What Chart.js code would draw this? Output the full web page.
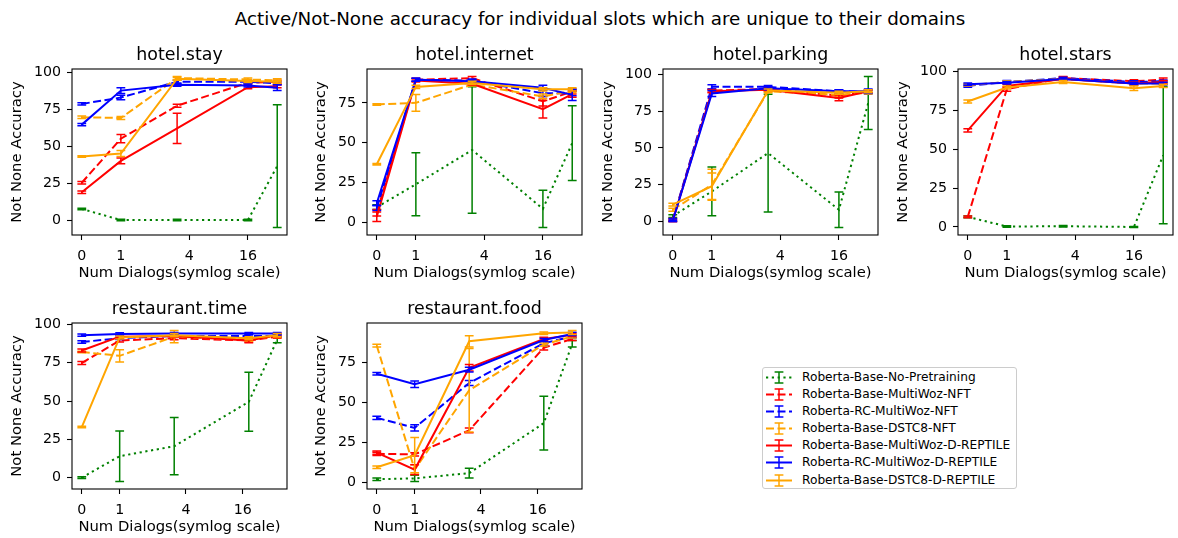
<!DOCTYPE html>
<html>
<head>
<meta charset="utf-8">
<title>Active/Not-None accuracy</title>
<script src="https://cdn.jsdelivr.net/npm/chart.js@4.4.1/dist/chart.umd.min.js"></script>
<style>
  body { margin: 0; background: #fff; }
  #fig { position: relative; width: 1178px; height: 538px; overflow: hidden; background: #fff; font-family: "DejaVu Sans", sans-serif; color: #000; }
  #fig canvas { position: absolute; }
  .suptitle { position: absolute; top: 8px; left: 0; width: 1200px; text-align: center; font-size: 18.3px; }
  .legend { position: absolute; left: 762px; top: 367px; width: 255px; height: 122px; box-sizing: border-box;
            border: 1px solid #cccccc; border-radius: 3px; padding-top: 1px; font-size: 12.2px; }
  .legend .row { position: relative; height: 17.1px; line-height: 17.1px; white-space: nowrap; }
  .legend svg { position: absolute; left: 3px; top: 0; }
  .legend span { position: absolute; left: 39px; top: 0; }
</style>
</head>
<body>
<div id="fig">
  <div class="suptitle">Active/Not-None accuracy for individual slots which are unique to their domains</div>
  <div class="legend" id="legend"></div>
</div>
<script>
// series (same order in every panel)
const seriesNames = [
  "Roberta-Base-No-Pretraining",
  "Roberta-Base-MultiWoz-NFT",
  "Roberta-RC-MultiWoz-NFT",
  "Roberta-Base-DSTC8-NFT",
  "Roberta-Base-MultiWoz-D-REPTILE",
  "Roberta-RC-MultiWoz-D-REPTILE",
  "Roberta-Base-DSTC8-D-REPTILE"
];
const seriesColors = ["green", "red", "blue", "orange", "red", "blue", "orange"];
const seriesDash = [[2.2, 3.6], [8, 3.5], [8, 3.5], [8, 3.5], [], [], []];

const panelTitles = ["hotel.stay", "hotel.internet", "hotel.parking", "hotel.stars", "restaurant.time", "restaurant.food"];
const hotelDialogs = [0, 1, 3, 16, 32];
const restaurantDialogs = [0, 1, 3, 18.5, 37];
const xTickValues = [0, 1, 4, 16];
const yTickValues = [0, 25, 50, 75, 100];

// mean accuracy, one row per series
const stayMean = [
  [7.5, 0, 0, 0, 36.5],
  [25.2, 55, 77.3, 92.8, 93.5],
  [78.5, 82.8, 93.5, 93.5, 92.5],
  [69.5, 69, 96, 95, 94.5],
  [18.8, 40, 62, 89.8, 90.5],
  [64.5, 87.5, 91.5, 91, 89.5],
  [43, 45, 95.5, 94, 93.5]
];
const stayErr = [
  [0.5, 0.5, 0.5, 0.5, 41.5],
  [0.8, 2.8, 1, 1, 1],
  [0.8, 1.5, 1, 1, 1],
  [0.8, 1, 1, 1, 1],
  [0.8, 2, 10.2, 1, 1],
  [0.8, 2, 1, 1, 2],
  [0.5, 2, 1, 1, 1]
];
const internetMean = [
  [9.5, 23.9, 45.4, 8.5, 49.7],
  [6, 89.5, 90.5, 76, 82],
  [9, 89.5, 89, 81, 81],
  [74, 75, 86.5, 79, 82.5],
  [3.5, 89, 87, 71, 80.5],
  [12, 89.5, 88.5, 84.5, 80],
  [36.5, 85, 87.5, 83.5, 83.5]
];
const internetErr = [
  [1.5, 19.8, 39.7, 11.7, 23.5],
  [2, 1, 1, 3, 1.5],
  [1.5, 1, 1, 2, 1.5],
  [0.5, 5.3, 1, 1.5, 1],
  [3, 1, 1, 5.5, 2],
  [1.5, 1, 1, 1.5, 3.5],
  [0.5, 1, 1, 1, 1]
];
const parkingMean = [
  [3.7, 20.5, 46.5, 8, 80.5],
  [1, 89, 90, 85.5, 88.5],
  [1, 91.5, 91.5, 88.5, 88],
  [8, 25, 88.5, 86, 87.5],
  [0.5, 88.5, 89.5, 84, 88.5],
  [0.5, 87, 90.5, 88.5, 88.5],
  [11.5, 24, 89, 87.5, 88.5]
];
const parkingErr = [
  [1, 16.5, 40, 12, 18],
  [1, 1, 1, 1.5, 1],
  [1, 1.5, 1, 1, 1],
  [1, 10.5, 1, 1, 1],
  [0.5, 1, 1, 2, 1],
  [0.5, 2, 1, 1, 1.5],
  [1, 9, 1, 1, 1]
];
const starsMean = [
  [6.5, 0.3, 0.5, 0, 46],
  [6.5, 88.5, 95.5, 93.5, 94.5],
  [90.5, 93, 95.5, 93, 93.5],
  [91, 93, 95, 92, 92],
  [62, 90.5, 95, 92, 93],
  [91.5, 92.5, 95, 92, 92],
  [80.5, 89.5, 93, 89, 90.5]
];
const starsErr = [
  [0.5, 0.5, 0.5, 0.3, 44],
  [0.5, 1.5, 1, 1, 1],
  [0.8, 1, 0.8, 0.8, 0.8],
  [0.8, 0.8, 0.8, 0.8, 0.8],
  [1, 1, 1, 1, 1],
  [0.8, 0.8, 0.8, 0.8, 0.8],
  [1, 1, 1, 1.5, 1]
];
const timeMean = [
  [0, 14, 20.5, 49.5, 90],
  [74.8, 89.5, 91, 89.5, 92],
  [88.5, 91, 92.5, 92.5, 92.5],
  [82, 79.5, 92, 90, 92.5],
  [83, 92, 92.5, 89.5, 93],
  [93, 93.8, 94, 94, 94],
  [33, 91.5, 93, 91, 93]
];
const timeErr = [
  [0.5, 16.5, 18.7, 19.3, 2],
  [1, 1, 1, 1, 1],
  [0.8, 0.8, 0.8, 0.8, 0.8],
  [0.5, 4, 4, 1, 1],
  [1, 1, 1, 1.5, 1],
  [0.8, 0.8, 0.8, 0.8, 0.8],
  [0.5, 1, 1, 1, 1]
];
const foodMean = [
  [2, 2.5, 5.8, 37, 86.5],
  [17.8, 17.5, 32.5, 84, 89.5],
  [40.3, 34, 62, 86.8, 91],
  [85.3, 8, 57.5, 86, 91],
  [18.6, 8, 71.5, 89.5, 92],
  [67.8, 61.2, 70.3, 88.8, 92.6],
  [9.5, 17, 88, 93, 93.5]
];
const foodErr = [
  [0.8, 1.9, 3, 16.8, 2],
  [1, 1, 1.5, 1.5, 1],
  [1, 2, 1.5, 1.5, 1],
  [0.8, 3, 26, 1, 1],
  [1, 3, 2, 1, 1],
  [0.8, 2, 1.5, 1, 1],
  [0.8, 11, 3.5, 0.8, 1.2]
];

// symlog (base 4, linthresh 2, linscale 1) like matplotlib
function symlog(v) {
  const t = 2, a = 1 / (1 - 1 / 4);
  if (Math.abs(v) <= t) return v * a;
  return Math.sign(v) * t * (a + Math.log(Math.abs(v) / t) / Math.log(4));
}

// draws error bars on top of each line as it is drawn
const errorBars = {
  id: "errorBars",
  afterDatasetDraw(chart, args) {
    const ds = chart.data.datasets[args.index];
    const y = chart.scales.y;
    const ctx = chart.ctx;
    ctx.save();
    ctx.strokeStyle = ds.borderColor;
    ctx.lineWidth = 1.5;
    ctx.setLineDash([]);
    args.meta.data.forEach((pt, i) => {
      const top = y.getPixelForValue(ds.data[i].y + ds.errors[i]);
      const bot = y.getPixelForValue(ds.data[i].y - ds.errors[i]);
      ctx.beginPath();
      ctx.moveTo(pt.x, top); ctx.lineTo(pt.x, bot);
      ctx.moveTo(pt.x - 4.4, top); ctx.lineTo(pt.x + 4.4, top);
      ctx.moveTo(pt.x - 4.4, bot); ctx.lineTo(pt.x + 4.4, bot);
      ctx.stroke();
    });
    ctx.restore();
  }
};

// axes box and centred panel title
const frame = {
  id: "frame",
  afterDraw(chart) {
    const a = chart.chartArea, ctx = chart.ctx;
    ctx.save();
    ctx.strokeStyle = "#000";
    ctx.lineWidth = 1.1;
    ctx.strokeRect(a.left, a.top, a.right - a.left, a.bottom - a.top);
    ctx.fillStyle = "#000";
    ctx.font = "17.4px 'DejaVu Sans'";
    ctx.textAlign = "center";
    ctx.textBaseline = "middle";
    ctx.fillText(chart.options.plugins.frame.title, (a.left + a.right) / 2, a.top - 14);
    ctx.restore();
  }
};

const panels = [
  { title: panelTitles[0], x: hotelDialogs, mean: stayMean, err: stayErr },
  { title: panelTitles[1], x: hotelDialogs, mean: internetMean, err: internetErr },
  { title: panelTitles[2], x: hotelDialogs, mean: parkingMean, err: parkingErr },
  { title: panelTitles[3], x: hotelDialogs, mean: starsMean, err: starsErr },
  { title: panelTitles[4], x: restaurantDialogs, mean: timeMean, err: timeErr },
  { title: panelTitles[5], x: restaurantDialogs, mean: foodMean, err: foodErr }
];

const axesLeft = [72, 367, 663, 958, 72, 367];
const axesTop = [69, 69, 69, 69, 323, 323];
const axW = 215, axH = 166, yAxisW = 72, xAxisH = 50, topPad = 40, rightPad = 10;
const fig = document.getElementById("fig");

panels.forEach((p, k) => {
  const canvas = document.createElement("canvas");
  canvas.width = yAxisW + axW + rightPad;
  canvas.height = topPad + axH + xAxisH;
  canvas.style.left = (axesLeft[k] - yAxisW) + "px";
  canvas.style.top = (axesTop[k] - topPad) + "px";
  fig.appendChild(canvas);

  let lo = Infinity, hi = -Infinity;
  p.mean.forEach((row, s) => row.forEach((v, i) => {
    lo = Math.min(lo, v - p.err[s][i]);
    hi = Math.max(hi, v + p.err[s][i]);
  }));
  const yPad = (hi - lo) * 0.05;
  const xMax = symlog(p.x[p.x.length - 1]);
  const hasHundred = hi + yPad >= 100;

  new Chart(canvas, {
    type: "line",
    data: {
      datasets: p.mean.map((row, s) => ({
        label: seriesNames[s],
        data: row.map((v, i) => ({ x: symlog(p.x[i]), y: v })),
        errors: p.err[s],
        borderColor: seriesColors[s],
        backgroundColor: seriesColors[s],
        borderDash: seriesDash[s],
        borderWidth: 2,
        pointRadius: 0,
        tension: 0,
        fill: false,
        order: 7 - s
      }))
    },
    options: {
      responsive: false,
      animation: false,
      layout: { padding: { top: topPad, right: rightPad, left: 0, bottom: 0 } },
      plugins: {
        legend: { display: false },
        tooltip: { enabled: false },
        frame: { title: p.title }
      },
      scales: {
        x: {
          type: "linear",
          min: -0.05 * xMax,
          max: 1.05 * xMax,
          afterFit: s => { s.height = xAxisH; },
          afterBuildTicks: s => { s.ticks = xTickValues.map(v => ({ value: symlog(v) })); },
          grid: { display: true, drawOnChartArea: false, drawTicks: true, tickLength: 5, tickColor: "#000", tickWidth: 1.1 },
          border: { display: false },
          ticks: {
            color: "#000", padding: 8, maxRotation: 0, autoSkip: false,
            font: { family: "'DejaVu Sans'", size: 14.2 },
            callback: (v, i) => xTickValues[i]
          },
          title: {
            display: true, text: "Num Dialogs(symlog scale)", color: "#000",
            font: { family: "'DejaVu Sans'", size: 14.8 }, padding: { top: 0, bottom: 3 }
          }
        },
        y: {
          min: lo - yPad,
          max: hi + yPad,
          afterFit: s => { s.width = yAxisW; },
          afterBuildTicks: s => {
            s.ticks = yTickValues.filter(v => v >= s.min && v <= s.max).map(v => ({ value: v }));
          },
          grid: { display: true, drawOnChartArea: false, drawTicks: true, tickLength: 5, tickColor: "#000", tickWidth: 1.1 },
          border: { display: false },
          ticks: { color: "#000", padding: 6, font: { family: "'DejaVu Sans'", size: 14.2 } },
          title: {
            display: true, text: "Not None Accuracy", color: "#000",
            font: { family: "'DejaVu Sans'", size: 14.8 },
            padding: { top: hasHundred ? 8 : 17.4, bottom: 0 }
          }
        }
      }
    },
    plugins: [errorBars, frame]
  });
});

// legend: line style with an error-bar mark, then the series name
const legend = document.getElementById("legend");
seriesNames.forEach((name, s) => {
  const dash = seriesDash[s].length ? ` stroke-dasharray="${seriesDash[s].join(" ")}"` : "";
  const c = seriesColors[s];
  legend.insertAdjacentHTML("beforeend",
    `<div class="row"><svg width="28" height="17" viewBox="0 0 28 17">` +
    `<line x1="0" y1="8.5" x2="26" y2="8.5" stroke="${c}" stroke-width="2"${dash}/>` +
    `<line x1="13" y1="3" x2="13" y2="14" stroke="${c}" stroke-width="1.5"/>` +
    `<line x1="8.6" y1="3" x2="17.4" y2="3" stroke="${c}" stroke-width="1.5"/>` +
    `<line x1="8.6" y1="14" x2="17.4" y2="14" stroke="${c}" stroke-width="1.5"/>` +
    `</svg><span>${name}</span></div>`);
});
</script>
</body>
</html>
